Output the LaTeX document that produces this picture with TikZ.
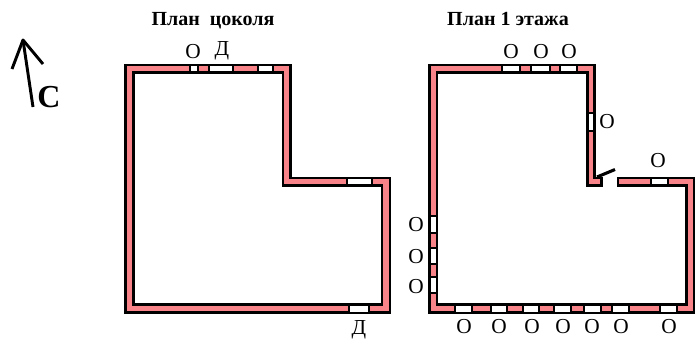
\documentclass[tikz,border=0pt]{standalone}
\usepackage{fontspec}
\setmainfont{Liberation Serif}
\definecolor{wallpink}{RGB}{248,132,138}
\tikzset{
    wall/.style={draw=black, line width=1.9pt, fill=wallpink, line join=miter},
    gap/.style={draw=black, line width=1.8pt, fill=white},
    title/.style={font=\fontsize{15}{17}\selectfont\bfseries, anchor=base},
    letter/.style={font=\fontsize{16}{18}\selectfont}
}
\begin{document}
\begin{tikzpicture}[x=0.75pt, y=-0.75pt]
    \useasboundingbox (0,0) rectangle (699,340);
    % north arrow
    \coordinate(tail) at (33,107);
    \coordinate(tip) at (23,40);
    \coordinate(barbl) at (12,69);
    \coordinate(barbr) at (43,64);
    \draw[line width=2.2pt] (tail)--(tip);
    \draw[line width=2.2pt, line join=round] (barbl)--(tip)--(barbr);
    \node(north)[font=\fontsize{24}{26}\selectfont\bfseries] at (49,97) {С};
    % titles
    \node(basement)[title] at (213,25) {План\ \ цоколя};
    \node(floor)[title] at (508,25) {План 1 этажа};
    % basement walls
    \draw[wall] (125.5,64.8)--(290.5,64.8)--(290.5,178)--(390,178)--(390,312.7)--(125.5,312.7)--cycle
        (133.5,72.5)--(133.5,304.7)--(382,304.7)--(382,185.5)--(282.8,185.5)--(282.8,72.5)--cycle;
    \foreach \a/\b in {190/198, 209/233, 258/273}
        \draw[gap] (\a,64.8) rectangle (\b,72.5);
    \draw[gap] (347,178) rectangle (372,185.5);
    \draw[gap] (349,304.7) rectangle (369,312.7);
    \node(bo)[letter] at (193,52) {О};
    \node(bd1)[letter] at (222,51) {Д};
    \node(bd2)[letter] at (359,330) {Д};
    % first floor walls
    \draw[wall] (429.3,64.8)--(594.5,64.8)--(594.5,178)--(601.5,178)--(601.5,185.5)--(587.5,185.5)--(587.5,72.5)--(437.2,72.5)--(437.2,304.7)--(686.3,304.7)--(686.3,185.5)--(618,185.5)--(618,178)--(694,178)--(694,312.7)--(429.3,312.7)--cycle;
    \draw[line width=2.3pt] (597,177)--(615,169.5);
    % first floor windows
    \foreach \a/\b in {502/520, 531/550, 560/577}
        \draw[gap] (\a,64.8) rectangle (\b,72.5);
    \draw[gap] (587.5,113) rectangle (594.5,131);
    \draw[gap] (651,178) rectangle (668,185.5);
    \foreach \a/\b in {216/233, 248/264, 277/293}
        \draw[gap] (429.3,\a) rectangle (437.2,\b);
    \foreach \a/\b in {455/472, 491/507, 523/539, 554/571, 584/601, 612/629, 660/677}
        \draw[gap] (\a,304.7) rectangle (\b,312.7);
    % window letters
    \foreach \x [count=\i] in {511,541,569}
        \node(ot\i)[letter] at (\x,52) {О};
    \node(or)[letter] at (607,122) {О};
    \node(os)[letter] at (658,161) {О};
    \foreach \y [count=\i] in {225,257,287}
        \node(ol\i)[letter] at (416,\y) {О};
    \foreach \x [count=\i] in {464,499,532,563,592,621,669}
        \node(ob\i)[letter] at (\x,327) {О};
\end{tikzpicture}
\end{document}
